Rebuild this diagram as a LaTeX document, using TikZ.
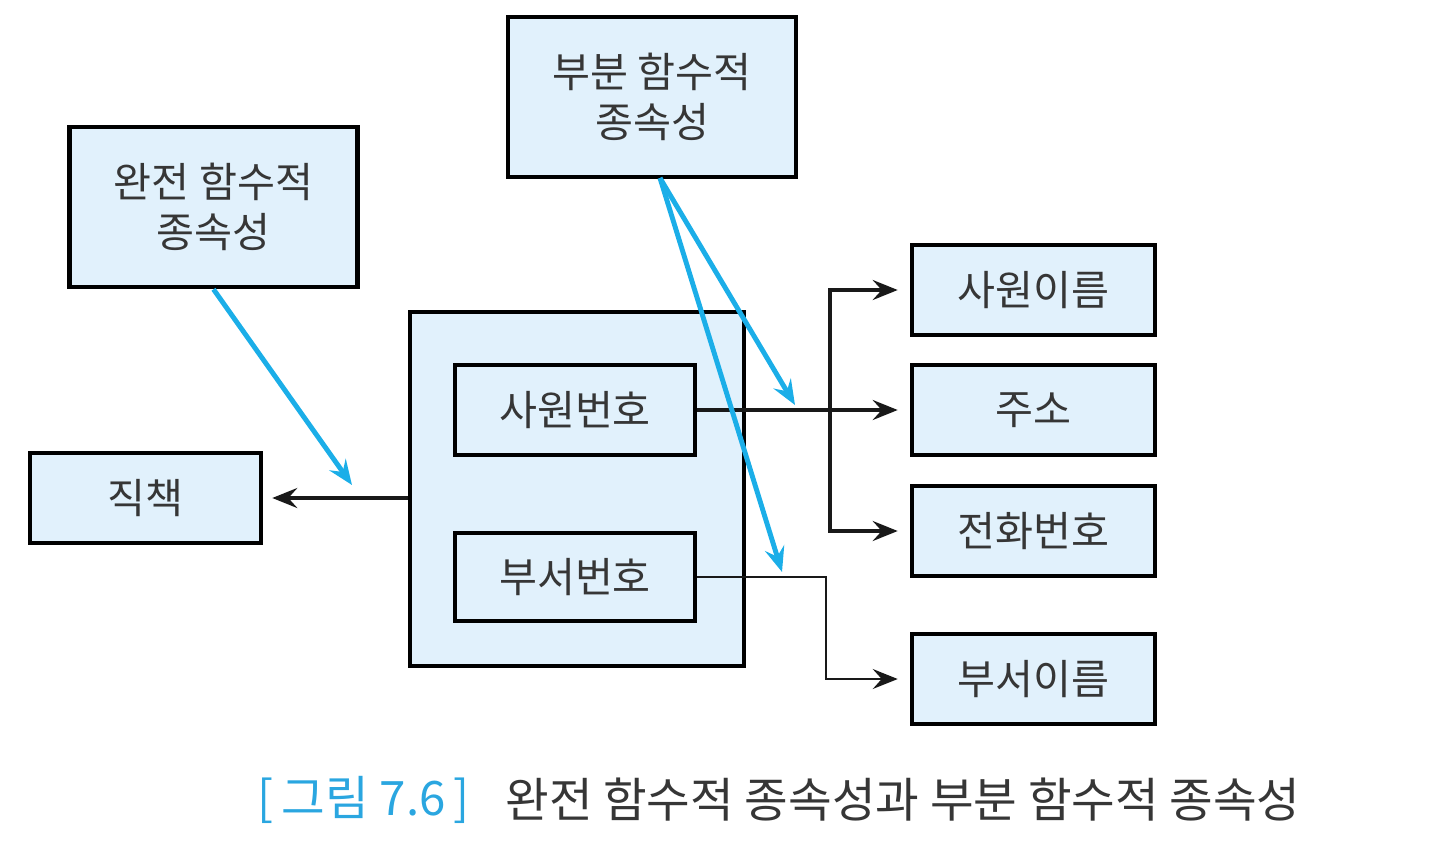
\documentclass[tikz,border=0pt]{standalone}
\usepackage{fontspec}
\usepackage{xcolor}
\usepackage{tikz}
\usetikzlibrary{positioning, arrows.meta}
\newfontfamily\kr{Noto Sans CJK KR}
\definecolor{boxfill}{HTML}{E1F1FC}
\definecolor{depblue}{HTML}{1BAEE8}
\definecolor{capblue}{HTML}{2AA6E0}
\definecolor{inkgray}{HTML}{363636}

\begin{document}
\begin{tikzpicture}[
    attr/.style={rectangle, draw=black, line width=2.6pt, fill=boxfill, minimum width=#1, minimum height=1.8cm,
                 align=center, text=inkgray, font=\kr\fontsize{23.5}{28.5}\selectfont},
    attr/.default=4.8cm,
    fd/.style={rectangle, draw=black, line width=2.6pt, fill=boxfill, minimum width=5.76cm, minimum height=3.2cm,
               align=center, text=inkgray, font=\kr\fontsize{23.5}{28.5}\selectfont},
    arrow/.style={-{Stealth[length=5mm, width=4mm, inset=1.8mm]}, line width=2.1pt, black!90, shorten >=0.24cm},
    deparrow/.style={-{Stealth[length=5mm, width=4mm, inset=1.8mm]}, line width=2.8pt, depblue},
    caption/.style={font=\kr\fontsize{27}{32}\selectfont, text=inkgray, inner sep=0pt}
  ]
  \useasboundingbox (0,0) rectangle (28.72,-17.08);
  % dependency boxes
  \node[fd] (pfd) at (13.04,-1.94) {부분 함수적\\종속성};
  \node[fd] (ffd) at (4.27,-4.14) {완전 함수적\\종속성};
  % key box and key attributes
  \node[rectangle, draw=black, line width=2.6pt, fill=boxfill, minimum width=6.68cm, minimum height=7.08cm] (key) at (11.54,-9.78) {};
  \node[attr] (eno) at (11.5,-8.2) {사원번호};
  \node[attr, minimum height=1.76cm] (dno) at (11.5,-11.54) {부서번호};
  % dependent attributes
  \node[attr=4.62cm] (title) at (2.91,-9.96) {직책};
  \node[attr=4.86cm] (ename) at (20.67,-5.8) {사원이름};
  \node[attr=4.86cm] (addr) at (20.67,-8.2) {주소};
  \node[attr=4.86cm] (phone) at (20.67,-10.62) {전화번호};
  \node[attr=4.86cm] (dname) at (20.67,-13.58) {부서이름};
  % functional dependencies
  \coordinate (split) at (16.6,-8.2);
  \coordinate (dbend) at (16.52,-11.54);
  \draw[arrow] (eno.east) -- (addr.west);
  \draw[arrow] (split) |- (ename.west);
  \draw[arrow] (split) |- (phone.west);
  \draw[arrow, line width=1.1pt] (dno.east) -- (dbend) |- (dname.west);
  \draw[arrow, shorten >=0.18cm] (key.west |- title.east) -- (title.east);
  % full / partial dependency markers
  \coordinate (ffdend) at (7.04,-9.7);
  \coordinate (pfdstart) at (13.2,-3.56);
  \coordinate (pfdend1) at (15.9,-8.1);
  \coordinate (pfdend2) at (15.64,-11.44);
  \draw[deparrow] (ffd.south) -- (ffdend);
  \draw[deparrow] (pfdstart) -- (pfdend1);
  \draw[deparrow] (pfdstart) -- (pfdend2);
  % caption
  \node[caption, anchor=west] (captext) at (10.1,-16.0) {완전 함수적 종속성과 부분 함수적 종속성};
  \node[caption, text=capblue, left=0.7cm of captext] (capnum) {[\,그림 7.6\,]};
\end{tikzpicture}
\end{document}
